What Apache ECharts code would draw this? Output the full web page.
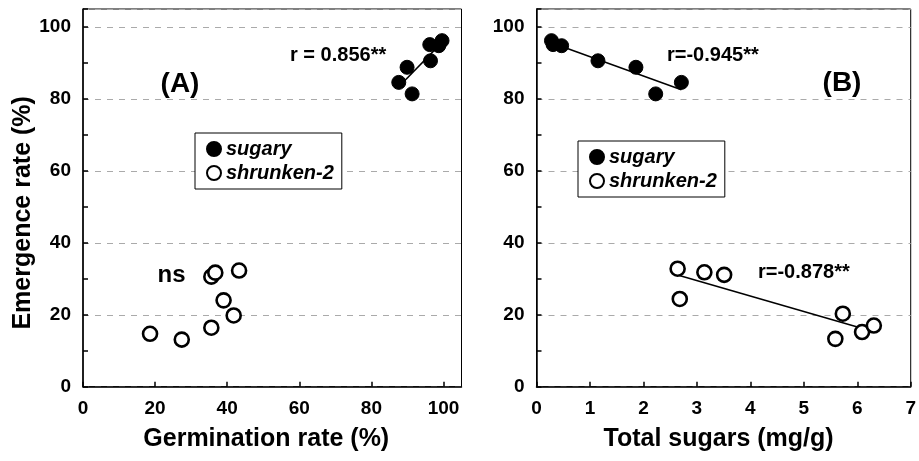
<!DOCTYPE html>
<html>
<head>
<meta charset="utf-8">
<script src="https://cdn.jsdelivr.net/npm/echarts@6/dist/echarts.min.js"></script>
<style>html,body{margin:0;padding:0;background:#fff;}#c{width:919px;height:461px;}</style>
</head>
<body>
<div id="c"></div>
<script>
// Panel A: germination rate (%) vs emergence rate (%)
const sugaryGermination = [87.6, 89.9, 91.3, 96.4, 96.2, 99.6, 98.7];
const sugaryEmergenceA  = [84.6, 88.8, 81.4, 90.6, 95.1, 96.2, 94.8];
const sh2Germination    = [18.6, 27.4, 35.6, 39.0, 41.8, 35.6, 36.7, 43.3];
const sh2EmergenceA     = [14.7, 13.1, 16.4, 24.0, 19.8, 30.6, 31.7, 32.3];
// Panel B: total sugars (mg/g) vs emergence rate (%)
const sugarySugars      = [0.28, 0.31, 0.47, 1.15, 1.86, 2.23, 2.71];
const sugaryEmergenceB  = [96.2, 95.1, 94.8, 90.6, 88.8, 81.4, 84.6];
const sh2Sugars         = [2.64, 2.68, 3.14, 3.51, 5.73, 5.59, 6.09, 6.31];
const sh2EmergenceB     = [32.8, 24.4, 31.8, 31.1, 20.3, 13.3, 15.2, 17.0];
const seriesNames = ['sugary', 'shrunken-2'];
const yTicks = [0, 20, 40, 60, 80, 100];
const xTicksA = [0, 20, 40, 60, 80, 100];
const xTicksB = [0, 1, 2, 3, 4, 5, 6, 7];

const FONT = '"Liberation Sans", Arial, sans-serif';
function pairs(xs, ys) { return xs.map((x, i) => [x, ys[i]]); }
function fit(xs, ys) {
  const n = xs.length;
  const mx = xs.reduce((a, b) => a + b, 0) / n;
  const my = ys.reduce((a, b) => a + b, 0) / n;
  let sxy = 0, sxx = 0;
  for (let i = 0; i < n; i++) { sxy += (xs[i] - mx) * (ys[i] - my); sxx += (xs[i] - mx) ** 2; }
  const b = sxy / sxx, a = my - b * mx;
  const x0 = Math.min(...xs), x1 = Math.max(...xs);
  return [[x0, a + b * x0], [x1, a + b * x1]];
}

const filled = { color: '#000', borderColor: '#000', borderWidth: 1, opacity: 1 };
const open = { color: '#fff', borderColor: '#000', borderWidth: 2.6, opacity: 1 };

function yAxis(gi, showName) {
  return {
    gridIndex: gi, type: 'value', min: 0, max: 105, interval: 20,
    name: showName ? 'Emergence rate (%)' : '', nameLocation: 'middle', nameGap: 47,
    nameTextStyle: { fontFamily: FONT, fontWeight: 'bold', fontSize: 25, color: '#000', padding: [0, 30, 0, 0] },
    axisLine: { show: true, lineStyle: { color: '#000', width: 1.5 } },
    axisTick: { show: true, inside: true, length: 5, lineStyle: { color: '#000', width: 1.5 } },
    minorTick: { show: true, splitNumber: 2, length: 5, lineStyle: { color: '#000', width: 1.5 } },
    axisLabel: { showMaxLabel: false, margin: 12, fontFamily: FONT, fontWeight: 'bold', fontSize: 19, color: '#000',
      formatter: v => yTicks.includes(v) ? String(v) : '' },
    splitLine: { show: true, lineStyle: { color: '#aaa', type: [6, 6], width: 1 } }
  };
}
function xAxis(gi, name, max, interval, ticks, shift) {
  return {
    gridIndex: gi, type: 'value', min: 0, max: max, interval: interval,
    name: name, nameLocation: 'middle', nameGap: 40,
    nameTextStyle: { fontFamily: FONT, fontWeight: 'bold', fontSize: 25, color: '#000', padding: [0, shift, 0, 0] },
    axisLine: { show: true, lineStyle: { color: '#000', width: 1.5 } },
    axisTick: { show: true, inside: true, length: 5, lineStyle: { color: '#000', width: 1.5 } },
    axisLabel: { showMaxLabel: ticks.includes(max), margin: 13, fontFamily: FONT, fontWeight: 'bold', fontSize: 19, color: '#000',
      formatter: v => ticks.includes(v) ? String(v) : '' },
    splitLine: { show: false }
  };
}
function scatter(name, gi, data, style) {
  return { type: 'scatter', name: name, xAxisIndex: gi, yAxisIndex: gi, data: data,
    symbol: 'circle', symbolSize: 14, itemStyle: style, z: 3 };
}
function fitLine(gi, pts) {
  return { type: 'line', name: 'fit' + gi, xAxisIndex: gi, yAxisIndex: gi, data: pts,
    showSymbol: false, symbol: 'none', silent: true, lineStyle: { color: '#000', width: 1.5 }, z: 2 };
}
function legend(left, top) {
  return {
    data: seriesNames, orient: 'vertical', left: left, top: top,
    backgroundColor: '#fff', borderColor: '#000', borderWidth: 1,
    padding: [6, 8, 6, 11], itemGap: 4, itemWidth: 14, itemHeight: 14, icon: 'circle',
    selectedMode: false,
    textStyle: { fontFamily: FONT, fontWeight: 'bold', fontStyle: 'italic', fontSize: 20, color: '#000', padding: [0, 0, 0, 0] }
  };
}
function label(text, x, y, size, align) {
  return { type: 'text', x: x, y: y, z: 10,
    style: { text: text, fontFamily: FONT, fontWeight: 'bold', fontSize: size, fill: '#000',
      textAlign: align || 'left', textVerticalAlign: 'middle' } };
}

const chart = echarts.init(document.getElementById('c'), null, { renderer: 'canvas' });
chart.setOption({
  backgroundColor: '#fff',
  animation: false,
  grid: [
    { left: 83, width: 378.5, top: 9, bottom: 74.3, show: true, borderColor: '#000', borderWidth: 1 },
    { left: 536.5, right: 6, top: 9, bottom: 74.3, show: true, borderColor: '#000', borderWidth: 1 }
  ],
  xAxis: [ xAxis(0, 'Germination rate (%)', 105, 20, xTicksA, 12), xAxis(1, 'Total sugars (mg/g)', 7, 1, xTicksB, 10) ],
  yAxis: [ yAxis(0, true), yAxis(1, false) ],
  legend: [ legend(195, 133), legend(578, 141) ],
  series: [
    scatter('sugary', 0, pairs(sugaryGermination, sugaryEmergenceA), filled),
    scatter('shrunken-2', 0, pairs(sh2Germination, sh2EmergenceA), open),
    fitLine(0, fit(sugaryGermination, sugaryEmergenceA)),
    scatter('sugary', 1, pairs(sugarySugars, sugaryEmergenceB), filled),
    scatter('shrunken-2', 1, pairs(sh2Sugars, sh2EmergenceB), open),
    fitLine(1, fit(sugarySugars, sugaryEmergenceB)),
    fitLine(1, fit(sh2Sugars, sh2EmergenceB))
  ],
  graphic: [
    label('r = 0.856**', 290, 55, 20),
    label('(A)', 180, 84, 28, 'center'),
    label('ns', 171.5, 275, 24, 'center'),
    label('r=-0.945**', 667, 55, 20),
    label('(B)', 842, 83, 28, 'center'),
    label('r=-0.878**', 758, 272, 20)
  ]
});
</script>
</body>
</html>
